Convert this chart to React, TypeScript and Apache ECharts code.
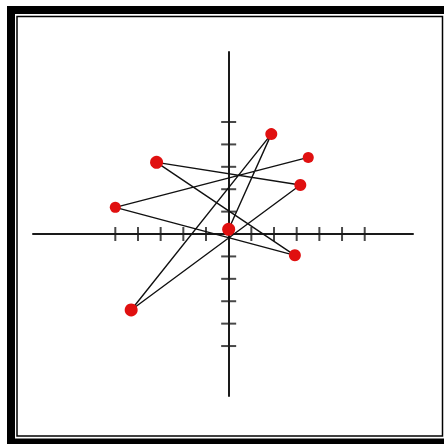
import React, { useEffect, useRef } from "react";
import * as echarts from "echarts";

// Path points in drawing order
const pointX = [3.51, -5.0, 2.92, -3.18, 3.16, -4.3, 1.88, 0.0];
const pointY = [3.42, 1.19, -0.95, 3.2, 2.19, -3.39, 4.46, 0.21];
const pointSize = [11, 11, 12, 13, 12, 13, 12, 13];

// Tick positions
const xTicks = [-5, -4, -3, -2, -1, 1, 2, 3, 4, 5, 6];
const yTicks = [-5, -4, -3, -2, -1, 1, 2, 3, 4, 5];

export default function App() {
  const ref = useRef<HTMLDivElement>(null);
  useEffect(() => {
    document.body.style.margin = "0";
    const chart = echarts.init(ref.current!, undefined, { renderer: "svg" });
    const axisColor = "#1a1a1a";
    chart.setOption({
      animation: false,
      backgroundColor: "#ffffff",
      grid: { left: 33, right: 31, top: 52, bottom: 48 },
      xAxis: {
        type: "value",
        min: -8.63,
        max: 8.13,
        axisLine: { show: true, onZero: true, lineStyle: { color: axisColor, width: 2 } },
        axisTick: { show: false },
        axisLabel: { show: false },
        splitLine: { show: false },
      },
      yAxis: {
        type: "value",
        min: -7.23,
        max: 8.125,
        axisLine: { show: true, onZero: true, lineStyle: { color: axisColor, width: 2 } },
        axisTick: { show: false },
        axisLabel: { show: false },
        splitLine: { show: false },
      },
      graphic: [
        {
          type: "rect",
          shape: { x: 11, y: 10, width: 437, height: 432.5 },
          style: { fill: "none", stroke: "#000", lineWidth: 8 },
          silent: true,
        },
        {
          type: "rect",
          shape: { x: 17, y: 16.5, width: 425.5, height: 419.5 },
          style: { fill: "none", stroke: "#000", lineWidth: 1.5 },
          silent: true,
        },
      ],
      series: [
        {
          type: "scatter",
          symbol: "rect",
          symbolSize: [2, 14],
          itemStyle: { color: axisColor },
          data: xTicks.map((v) => [v, 0]),
          silent: true,
          z: 1,
        },
        {
          type: "scatter",
          symbol: "rect",
          symbolSize: [15, 2],
          itemStyle: { color: axisColor },
          data: yTicks.map((v) => [0, v]),
          silent: true,
          z: 1,
        },
        {
          type: "line",
          data: pointX.map((x, i) => ({
            value: [x, pointY[i]],
            symbolSize: pointSize[i],
          })),
          symbol: "circle",
          showSymbol: true,
          lineStyle: { color: "#111", width: 1.4 },
          itemStyle: { color: "#e01010", borderWidth: 0 },
          z: 3,
        },
      ],
    });
    return () => chart.dispose();
  }, []);
  return <div ref={ref} style={{ width: 444, height: 444 }} />;
}
